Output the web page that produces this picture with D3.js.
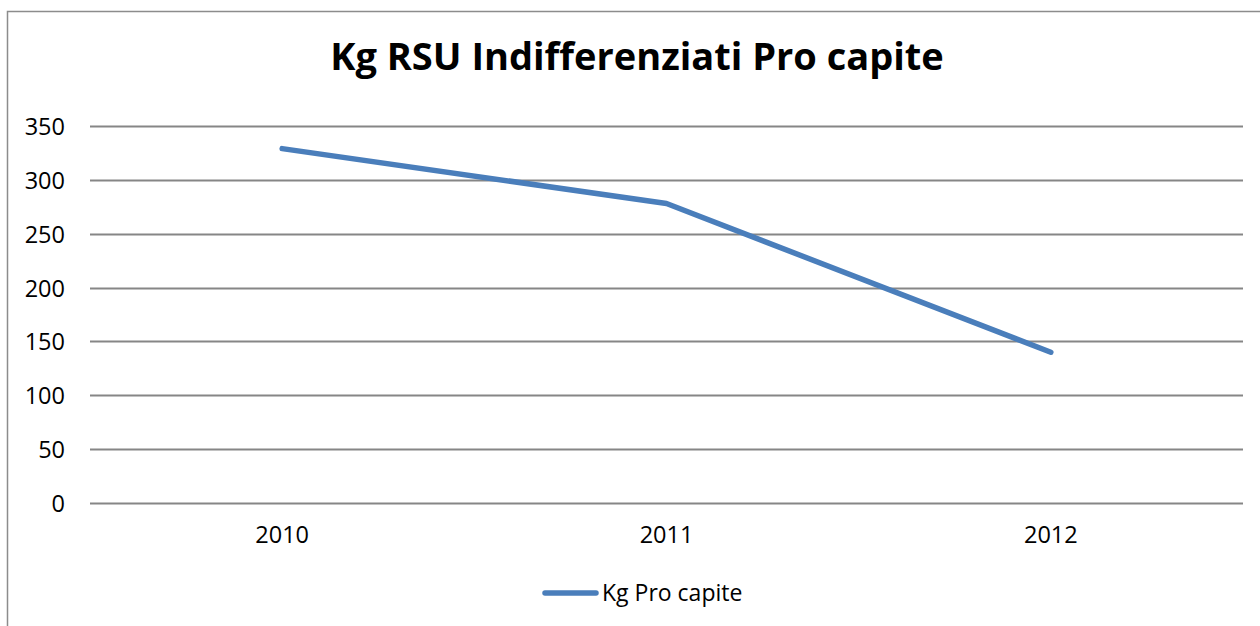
<!DOCTYPE html>
<html>
<head>
<meta charset="utf-8">
<script src="https://cdn.jsdelivr.net/npm/d3@7"></script>
<style>
  body { margin: 0; background: #fff; }
  text { font-family: "Open Sans", "Noto Sans", sans-serif; fill: #000; }
</style>
</head>
<body>
<script>
var years = ["2010", "2011", "2012"];
var kgProCapite = [329, 278, 140];
var yTicks = [0, 50, 100, 150, 200, 250, 300, 350];
var seriesName = "Kg Pro capite";
var title = "Kg RSU Indifferenziati Pro capite";

var width = 1260, height = 626;
var plot = { left: 90, right: 1243, top: 126, bottom: 503 };

var svg = d3.select("body")
  .append("svg")
    .attr("width", width)
    .attr("height", height);

// outer chart frame (runs off the right and bottom of the picture)
svg.append("rect")
  .attr("x", 7.5)
  .attr("y", 11.5)
  .attr("width", 1300)
  .attr("height", 700)
  .style("fill", "white")
  .style("stroke", "#8c8c8c")
  .style("stroke-width", 1.5);

var x = d3.scaleBand()
  .domain(years)
  .range([plot.left, plot.right]);

var y = d3.scaleLinear()
  .domain([0, 350])
  .range([plot.bottom, plot.top]);

// gridlines
svg.append("g")
  .selectAll("line")
  .data(yTicks)
  .join("line")
    .attr("x1", plot.left)
    .attr("x2", plot.right)
    .attr("y1", function(d) { return Math.round(y(d)) + 0.5; })
    .attr("y2", function(d) { return Math.round(y(d)) + 0.5; })
    .style("stroke", "#868686")
    .style("stroke-width", 2);

// y axis labels
var yAxis = d3.axisLeft(y).tickValues(yTicks).tickSize(0).tickPadding(0);
svg.append("g")
  .attr("transform", "translate(65,0)")
  .call(yAxis)
  .call(function(g) { g.select(".domain").remove(); })
  .selectAll("text")
    .style("font-family", "'Open Sans', sans-serif")
    .style("font-size", "23.5px")
    .attr("fill", "#000")
    .attr("dy", "0.36em");

// x axis labels
var xAxis = d3.axisBottom(x).tickSize(0).tickPadding(0);
svg.append("g")
  .attr("transform", "translate(0,521)")
  .call(xAxis)
  .call(function(g) { g.select(".domain").remove(); })
  .selectAll("text")
    .style("font-family", "'Open Sans', sans-serif")
    .style("font-size", "23.5px")
    .attr("fill", "#000")
    .attr("dy", "0.95em");

// series line
var line = d3.line()
  .x(function(d, i) { return x(years[i]) + x.bandwidth() / 2; })
  .y(function(d) { return y(d); });

svg.append("path")
  .datum(kgProCapite)
  .attr("d", line)
  .style("fill", "none")
  .style("stroke", "#4a7ebb")
  .style("stroke-width", 5.5)
  .style("stroke-linecap", "round")
  .style("stroke-linejoin", "round");

// title
svg.append("text")
  .attr("x", 637)
  .attr("y", 70)
  .attr("text-anchor", "middle")
  .style("font-size", "38px")
  .style("font-weight", "bold")
  .text(title);

// legend
svg.append("line")
  .attr("x1", 545)
  .attr("x2", 596)
  .attr("y1", 593)
  .attr("y2", 593)
  .style("stroke", "#4a7ebb")
  .style("stroke-width", 5.5)
  .style("stroke-linecap", "round");

svg.append("text")
  .attr("x", 602)
  .attr("y", 601)
  .style("font-size", "23px")
  .text(seriesName);
</script>
</body>
</html>
